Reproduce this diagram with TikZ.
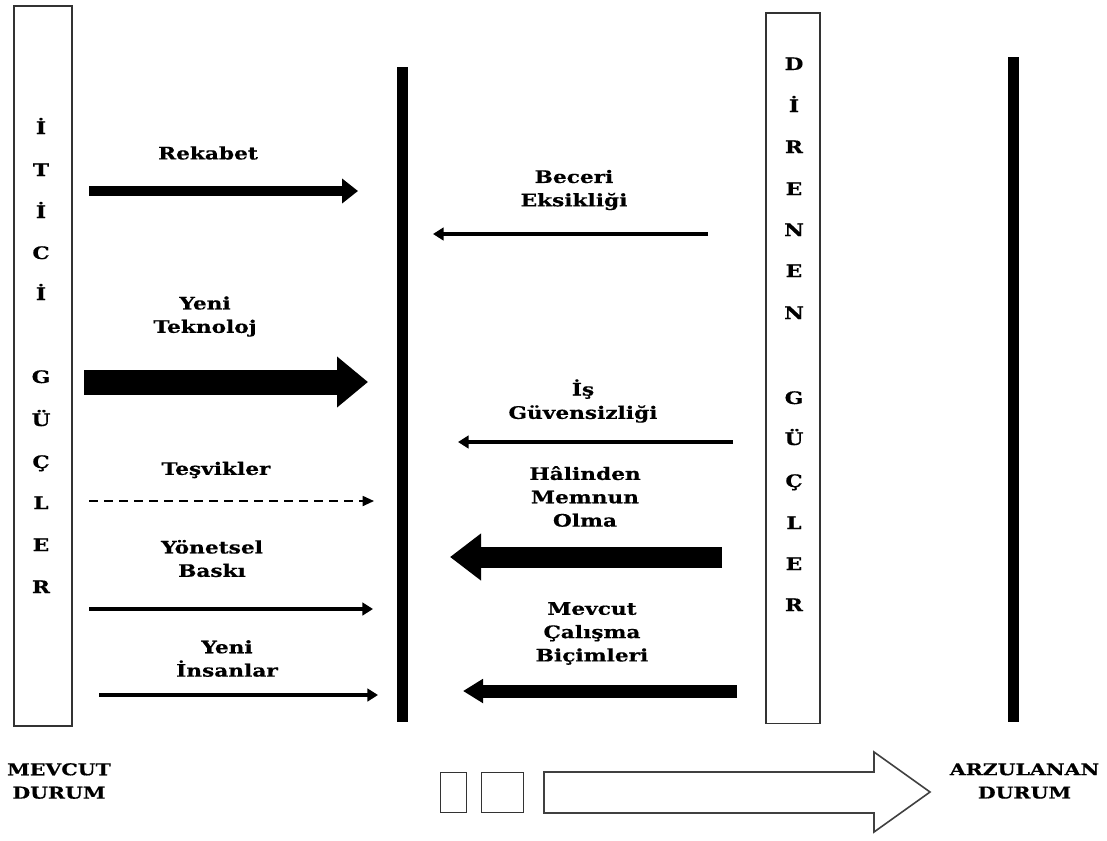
\documentclass[tikz,border=0pt]{standalone}
\usepackage{fontspec}
\newfontfamily\lblfont{DejaVu Serif}[FakeStretch=1.26, BoldFeatures={FakeBold=0.5}]
\usetikzlibrary{arrows.meta}
\begin{document}
\begin{tikzpicture}[x=0.75pt,y=-0.75pt,
  every node/.style={font=\lblfont\bfseries\fontsize{12.9pt}{17.5pt}\selectfont, inner sep=0pt},
  lbl/.style={align=center},
  endlbl/.style={align=center, font=\lblfont\bfseries\fontsize{12.2pt}{17.5pt}\selectfont},
  letter/.style={anchor=base},
  frame/.style={draw=black!80, line width=1.2pt},
  bar/.style={fill=black},
  arrA/.style={line width=7.5pt, -{Triangle[length=12pt,width=18pt]}},
  arrB/.style={line width=18.75pt, -{Triangle[length=23.25pt,width=36.75pt]}},
  arrC/.style={line width=1.3pt, dash pattern=on 6.75pt off 4.5pt, -{Triangle[length=8.5pt,width=7.5pt]}},
  arrD/.style={line width=3.4pt, -{Triangle[length=8pt,width=9.5pt]}},
  arrE/.style={line width=15.75pt, -{Triangle[length=23.25pt,width=33.75pt]}},
  arrF/.style={line width=9.75pt, -{Triangle[length=15pt,width=17.25pt]}},
  big/.style={draw=black!75, line width=1.2pt, fill=white}
]
\useasboundingbox (0,0) rectangle (1107,840);

% side boxes
\node[frame, minimum width=43.5pt, minimum height=540pt, anchor=north west] (lbox) at (13,5) {};
\node[frame, minimum width=40.5pt, minimum height=533pt, anchor=north west] (rbox) at (765,12) {};

% vertical letters, left box
\foreach \t/\yy [count=\i] in {İ/128, T/170, İ/212, C/253, İ/294, G/377, Ü/420, Ç/462, L/503, E/545, R/587}
  \node[letter] (l\i) at (41,\yy+6) {\t};
% vertical letters, right box
\foreach \t/\yy [count=\i] in {D/64, İ/106, R/147, E/189, N/230, E/271, N/313, G/398, Ü/439, Ç/481, L/523, E/564, R/605}
  \node[letter] (r\i) at (794,\yy+6) {\t};

% thick vertical bars
\fill[bar] (397,67) rectangle (408,722);
\fill[bar] (1008,57) rectangle (1019,722);

% driving forces
\node[lbl] (t1) at (208,153) {Rekabet};
\coordinate (a1s) at (89,191); \coordinate (a1e) at (358,191);
\draw[arrA] (a1s) -- (a1e);

\node[lbl] (t2) at (205,316.5) {Yeni\\Teknoloj};
\coordinate (a2s) at (84,382); \coordinate (a2e) at (368,382);
\draw[arrB] (a2s) -- (a2e);

\node[lbl] (t3) at (216,470) {Teşvikler};
\coordinate (a3s) at (89,501); \coordinate (a3e) at (374,501);
\draw[arrC] (a3s) -- (a3e);

\node[lbl] (t4) at (212,558.5) {Yönetsel\\Baskı};
\coordinate (a4s) at (89,609); \coordinate (a4e) at (373,609);
\draw[arrD] (a4s) -- (a4e);

\node[lbl] (t5) at (227,658.5) {Yeni\\İnsanlar};
\coordinate (a5s) at (99,695); \coordinate (a5e) at (378,695);
\draw[arrD] (a5s) -- (a5e);

% restraining forces
\node[lbl] (u1) at (574,190) {Beceri\\Eksikliği};
\coordinate (b1s) at (708,234); \coordinate (b1e) at (433,234);
\draw[arrD] (b1s) -- (b1e);

\node[lbl] (u2) at (583,401) {İş\\Güvensizliği};
\coordinate (b2s) at (733,442); \coordinate (b2e) at (458,442);
\draw[arrD] (b2s) -- (b2e);

\node[lbl] (u3) at (585,496.5) {Hâlinden\\Memnun\\Olma};
\coordinate (b3s) at (722,557); \coordinate (b3e) at (450,557);
\draw[arrE] (b3s) -- (b3e);

\node[lbl] (u4) at (592,633.5) {Mevcut\\Çalışma\\Biçimleri};
\coordinate (b4s) at (737,691); \coordinate (b4e) at (463,691);
\draw[arrF] (b4s) -- (b4e);

% bottom labels
\node[endlbl] (mevcut) at (59,781) {MEVCUT\\DURUM};
\node[endlbl] (arzu) at (1024.5,781) {ARZULANAN\\DURUM};

% bottom squares and big arrow
\node[draw=black!80, line width=1.1pt, minimum width=19.5pt, minimum height=30pt, anchor=north west] (sq1) at (440,772) {};
\node[draw=black!80, line width=1.1pt, minimum width=31.5pt, minimum height=30pt, anchor=north west] (sq2) at (481,772) {};
\draw[big] (544,772) -- (874,772) -- (874,752) -- (930,792) -- (874,832) -- (874,813) -- (544,813) -- cycle;
\end{tikzpicture}
\end{document}
